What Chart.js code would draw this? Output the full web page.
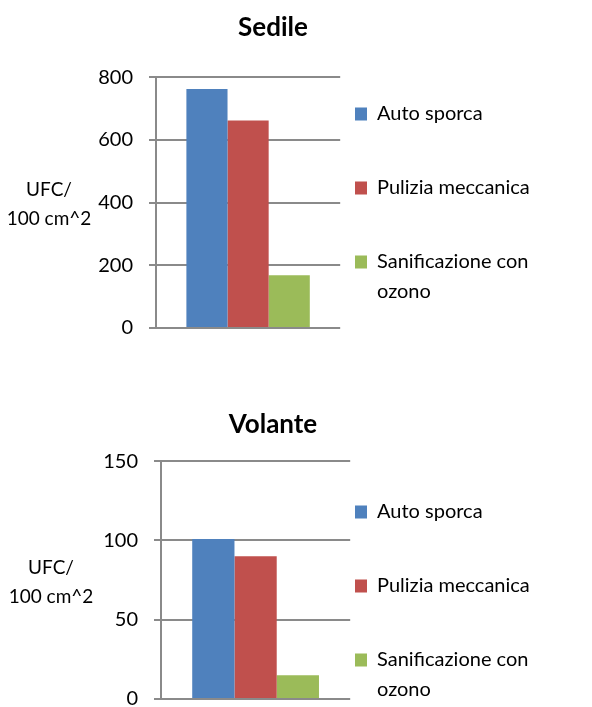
<!DOCTYPE html>
<html>
<head>
<meta charset="utf-8">
<title>Sedile / Volante</title>
<script src="https://cdn.jsdelivr.net/npm/chart.js@4/dist/chart.umd.min.js"></script>
<style>
    html, body { margin: 0; padding: 0; background: #fff; overflow: hidden; }
    .box { position: absolute; left: 0; width: 592px; }
    #topBox { top: 0; height: 360px; }
    #bottomBox { top: 390px; height: 340px; }
</style>
</head>
<body>
<div class="box" id="topBox"><canvas id="sedileChart" width="592" height="360"></canvas></div>
<div class="box" id="bottomBox"><canvas id="volanteChart" width="592" height="340"></canvas></div>
<script>
// data
const categories = [''];
const seriesNames = ['Auto sporca', 'Pulizia meccanica', 'Sanificazione con ozono'];
const legendLines = [['Auto sporca'], ['Pulizia meccanica'], ['Sanificazione con', 'ozono']];
const seriesColors = ['#4F81BD', '#C0504D', '#9BBB59'];
const yTitleLines = ['UFC/', '100 cm^2'];

const sedileValues = [762, 662, 168];
const sedileTicks = [0, 200, 400, 600, 800];

const volanteValues = [101, 90, 15];
const volanteTicks = [0, 50, 100, 150];

const gridGray = '#8a8a8a';
Chart.defaults.font.family = 'Lato';
Chart.defaults.color = '#000';

// horizontal two-line axis title on the left of the tick labels
const sideTitle = {
    id: 'sideTitle',
    afterDraw(chart, args, opts) {
        const { ctx, chartArea } = chart;
        const cy = (chartArea.top + chartArea.bottom) / 2 + 2;
        ctx.save();
        ctx.font = '19px Lato';
        ctx.fillStyle = '#000';
        ctx.textAlign = 'center';
        ctx.textBaseline = 'middle';
        opts.lines.forEach((t, i) => {
            ctx.fillText(t, chartArea.left - opts.offset, cy + (i - (opts.lines.length - 1) / 2) * opts.gap);
        });
        ctx.restore();
    }
};

// legend padding sets the row spacing, so move the legend column (and the title) after layout
const boxNudge = {
    id: 'boxNudge',
    afterLayout(chart, args, opts) {
        const lg = chart.legend;
        const pad = lg.options.labels.padding;
        const dx = opts.legendX - (lg.left + pad);
        const dy = opts.legendY - (lg.top + pad);
        lg.left += dx;
        lg.right += dx;
        lg.top += dy;
        lg.bottom += dy;
        const tt = chart.titleBlock;
        const tx = opts.titleX - (tt.left + tt.right) / 2;
        tt.left += tx;
        tt.right += tx;
    }
};

function makeChart(id, title, values, ticks, cfg) {
    const datasets = seriesNames.map((name, i) => ({
        label: name,
        data: [values[i]],
        backgroundColor: seriesColors[i],
        borderWidth: 0,
        barPercentage: 1,
        categoryPercentage: 0.67
    }));

    return new Chart(document.getElementById(id), {
        type: 'bar',
        data: { labels: categories, datasets },
        plugins: [sideTitle, boxNudge],
        options: {
            responsive: false,
            animation: false,
            devicePixelRatio: 1,
            layout: { padding: { left: 0, right: cfg.padRight, top: 0, bottom: cfg.padBottom } },
            plugins: {
                title: {
                    display: true,
                    text: title,
                    color: '#000',
                    font: { size: 26, weight: 'bold', lineHeight: 1.2 },
                    padding: { top: cfg.titleTop, bottom: cfg.titleBottom }
                },
                legend: {
                    position: 'right',
                    align: 'start',
                    maxWidth: 240,
                    labels: {
                        color: '#000',
                        font: { size: 20, lineHeight: 1.5 },
                        boxWidth: 12,
                        boxHeight: 13,
                        padding: 44,
                        generateLabels: chart => Chart.defaults.plugins.legend.labels.generateLabels(chart)
                            .map((item, i) => ({ ...item, text: legendLines[i] }))
                    }
                },
                tooltip: { enabled: false },
                sideTitle: { lines: yTitleLines, offset: cfg.titleOffset, gap: 29 },
                boxNudge: { legendX: 355, legendY: cfg.legendY, titleX: 273 }
            },
            scales: {
                x: { display: false },
                y: {
                    min: ticks[0],
                    max: ticks[ticks.length - 1],
                    ticks: { stepSize: ticks[1] - ticks[0], padding: 16, font: { size: 20 }, color: '#000' },
                    grid: { color: gridGray, lineWidth: 2, tickLength: 7, drawTicks: true },
                    border: { display: true, color: gridGray, width: 2 },
                    afterFit: scale => { scale.width = cfg.axisWidth; }
                }
            }
        }
    });
}

makeChart('sedileChart', 'Sedile', sedileValues, sedileTicks, {
    padRight: 23, padBottom: 32, titleTop: 12, titleBottom: 34, axisWidth: 156, titleOffset: 107, legendY: 104
});
makeChart('volanteChart', 'Volante', volanteValues, volanteTicks, {
    padRight: 13, padBottom: 31, titleTop: 19, titleBottom: 21, axisWidth: 161, titleOffset: 110, legendY: 112
});
</script>
</body>
</html>
